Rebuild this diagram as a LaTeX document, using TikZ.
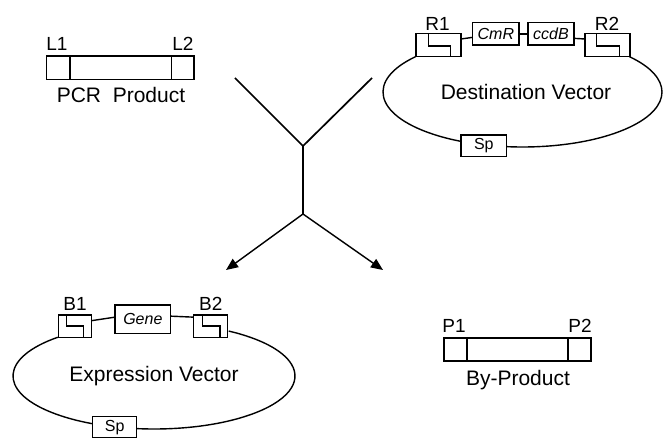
\documentclass[tikz,border=0pt]{standalone}
\usepackage{fontspec}
\setmainfont{Liberation Sans}
\usetikzlibrary{arrows.meta}
\begin{document}
\begin{tikzpicture}[x=1pt,y=-1pt,
  box/.style={draw, line width=1.4pt, inner sep=0pt, outer sep=0pt},
  big/.style={font=\fontsize{21}{25}\selectfont, inner sep=0pt, anchor=base},
  lab/.style={font=\fontsize{19}{22}\selectfont, inner sep=0pt, anchor=base},
  small/.style={font=\fontsize{16}{19}\selectfont, inner sep=0pt},
  wire/.style={line width=1.4pt},
  flow/.style={line width=1.7pt},
  tip/.style={-{Triangle[length=12pt,width=10pt]}},
]
\useasboundingbox (0,0) rectangle (664,438);

% ---------- PCR product ----------
\node[box, minimum width=23.3pt, minimum height=23.3pt] (pl) at (58.35,67.65) {};
\node[box, minimum width=101.7pt, minimum height=23.3pt] (pm) at (120.85,67.65) {};
\node[box, minimum width=22.3pt, minimum height=23.3pt] (pr) at (182.85,67.65) {};
\node[lab] (l1) at (57,51) {L1};
\node[lab] (l2) at (183,51) {L2};
\node[big] (pcr) at (121,103) {PCR~~Product};

% ---------- By-product ----------
\node[box, minimum width=23pt, minimum height=23pt] (bl) at (455.5,349.5) {};
\node[box, minimum width=101pt, minimum height=23pt] (bm) at (517.5,349.5) {};
\node[box, minimum width=23pt, minimum height=23pt] (br) at (579.5,349.5) {};
\node[lab] (p1) at (454,333) {P1};
\node[lab] (p2) at (580,333) {P2};
\node[big] (byp) at (518,385) {By-Product};

% ---------- Destination vector ----------
\draw[wire] (522.5,92) ++(220:139.5 and 55) arc[start angle=220, end angle=-40, x radius=139.5, y radius=55];
\node[box, fill=white, minimum width=45pt, minimum height=23.4pt] (r1) at (438.5,45) {};
\draw[wire] (r1.north west) ++(12.3,0) -- ++(0,12.7) -- ++(22.4,0) -- ++(0,10.7);
\node[box, fill=white, minimum width=45pt, minimum height=23.4pt] (r2) at (607.5,45) {};
\draw[wire] (r2.north west) ++(11.7,0) -- ++(0,12.7) -- ++(22.6,0) -- ++(0,10.7);
\node[box, small, minimum width=46.3pt, minimum height=22.3pt] (cmr) at (495.85,33.85) {\itshape CmR};
\node[box, small, minimum width=46pt, minimum height=22.3pt] (ccdb) at (551,33.85) {\itshape ccdB};
\node[box, small, fill=white, minimum width=45.7pt, minimum height=21.7pt] (spd) at (483.85,145.85) {Sp};
\draw[wire] ([yshift=6pt]r1.east) -- ([yshift=-3.5pt]cmr.west);
\draw[wire] (cmr.east) -- (ccdb.west);
\draw[wire] ([yshift=-4.5pt]ccdb.east) -- ([yshift=6pt]r2.west);
\node[lab] (r1l) at (437.5,30.5) {R1};
\node[lab] (r2l) at (607,30.5) {R2};
\node[big] (dv) at (526,100) {Destination Vector};

% ---------- Expression vector ----------
\draw[wire] (154,376) ++(227:141 and 53) arc[start angle=227, end angle=-58, x radius=141, y radius=53];
\node[box, fill=white, minimum width=33.4pt, minimum height=22.3pt] (b1) at (75,326.15) {};
\draw[wire] (b1.north west) ++(8.4,0) -- ++(0,11) -- ++(16.6,0) -- ++(0,11.3);
\node[box, fill=white, minimum width=34.4pt, minimum height=22.3pt] (b2) at (210.5,326.15) {};
\draw[wire] (b2.north west) ++(9.4,0) -- ++(0,11) -- ++(17.3,0) -- ++(0,11.3);
\node[box, small, minimum width=55.7pt, minimum height=28.3pt] (gene) at (142.85,319.15) {\itshape Gene};
\node[box, small, fill=white, minimum width=44pt, minimum height=20.8pt] (spe) at (114.7,427.1) {Sp};
\draw[wire] ([yshift=5.5pt]b1.east) -- ([yshift=2pt]gene.west);
\draw[wire] ([yshift=3pt]gene.east) -- ([yshift=9pt]b2.west);
\node[lab] (b1l) at (75,311) {B1};
\node[lab] (b2l) at (210.7,311) {B2};
\node[big] (ev) at (154,381) {Expression Vector};

% ---------- Reaction arrows ----------
\coordinate (ytl) at (235,78);
\coordinate (ytr) at (372,78);
\coordinate (yj1) at (303,146);
\coordinate (yj2) at (303,214);
\coordinate (al) at (226,270);
\coordinate (ar) at (383,270);
\draw[flow, line join=miter] (ytl) -- (yj1) -- (ytr);
\draw[flow] (yj1) -- (yj2);
\draw[wire, tip] (yj2) -- (al);
\draw[wire, tip] (yj2) -- (ar);
\end{tikzpicture}
\end{document}
